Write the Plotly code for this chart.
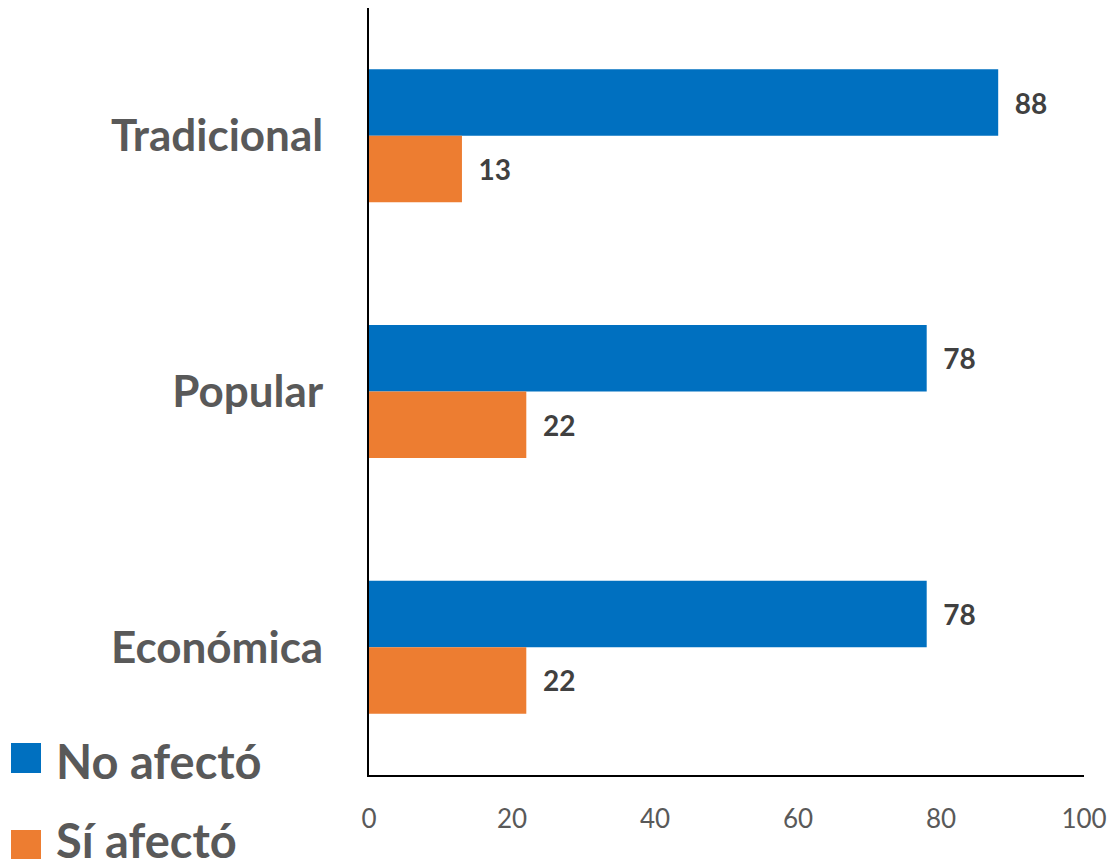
import plotly.graph_objects as go

categories = ["Tradicional", "Popular", "Económica"]
no_afecto = [88, 78, 78]
si_afecto = [13, 22, 22]
series_names = ["No afectó", "Sí afectó"]
x_ticks = [0, 20, 40, 60, 80, 100]

BLUE = "#0070C0"
ORANGE = "#ED7D31"
GRAY = "#595959"
DARK = "#404040"
FONT = "Lato"

W, H = 1115, 866
ML, MR, MT, MB = 369, 31, 8, 91
PW, PH = W - ML - MR, H - MT - MB

fig = go.Figure()
for name, vals, col in [(series_names[0], no_afecto, BLUE), (series_names[1], si_afecto, ORANGE)]:
    fig.add_trace(go.Bar(
        name=name, y=categories, x=vals, orientation="h",
        marker=dict(color=col, line=dict(width=0)),
        texttemplate="\u00a0\u00a0%{x}", textposition="outside",
        textfont=dict(family=FONT, size=28, color=DARK, weight="bold"),
        cliponaxis=False, showlegend=False,
    ))

fig.update_layout(
    width=W, height=H,
    margin=dict(l=ML, r=MR, t=MT, b=MB),
    plot_bgcolor="white", paper_bgcolor="white",
    barmode="group", bargap=0.48, bargroupgap=0,
    font=dict(family=FONT, color=GRAY),
    xaxis=dict(range=[0, 100], tickvals=x_ticks, showgrid=False, zeroline=False,
               showline=True, linecolor="black", linewidth=2,
               ticks="outside", ticklen=20, tickcolor="rgba(0,0,0,0)",
               tickfont=dict(family=FONT, size=26, color=GRAY)),
    yaxis=dict(autorange="reversed", showgrid=False, zeroline=False,
               showline=True, linecolor="black", linewidth=2,
               ticks="outside", ticklen=35, tickcolor="rgba(0,0,0,0)",
               tickfont=dict(family=FONT, size=44, color=GRAY, weight="bold")),
)

def px_x(p):
    return (p - ML) / PW

def px_y(p):
    return (H - MB - p) / PH

legend_items = [(series_names[0], BLUE, 743, 773, 761), (series_names[1], ORANGE, 830, 859, 840)]
for name, col, y0, y1, ty in legend_items:
    fig.add_shape(type="rect", xref="paper", yref="paper",
                  x0=px_x(11), x1=px_x(41), y0=px_y(y1), y1=px_y(y0),
                  fillcolor=col, line=dict(width=0))
    fig.add_annotation(xref="paper", yref="paper", x=px_x(54), y=px_y(ty),
                       text=name, showarrow=False, xanchor="left", yanchor="middle",
                       font=dict(family=FONT, size=47, color=GRAY, weight="bold"))

fig.write_html("out.html")
